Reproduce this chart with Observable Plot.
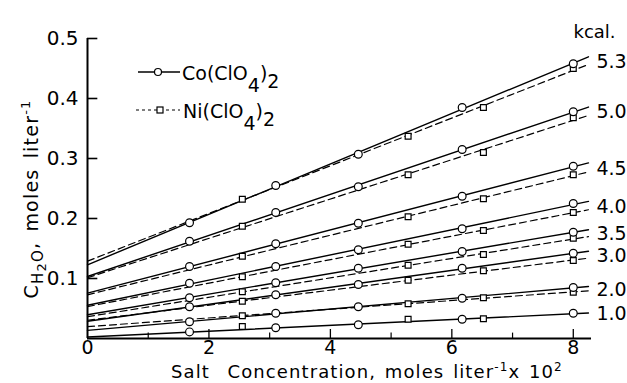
<!DOCTYPE html>
<html><head><meta charset="utf-8">
<script src="https://cdn.jsdelivr.net/npm/d3@7"></script>
<script src="https://cdn.jsdelivr.net/npm/@observablehq/plot@0.6"></script>
<style>html,body{margin:0;padding:0;background:#fff}</style>
</head><body><div id="chart"></div>
<script>
// Salt concentrations (moles liter^-1 x 10^2)
const coX = [1.68, 3.1, 4.46, 6.17, 8.0];
const niX = [2.55, 5.28, 6.52, 8.0];
// kcal labels, top to bottom
const kcal = ["5.3", "5.0", "4.5", "4.0", "3.5", "3.0", "2.0", "1.0"];
// Co(ClO4)2 values (C_H2O, moles liter^-1)
const co53 = [0.193, 0.255, 0.307, 0.385, 0.458];
const co50 = [0.162, 0.210, 0.253, 0.315, 0.378];
const co45 = [0.120, 0.158, 0.192, 0.237, 0.287];
const co40 = [0.092, 0.120, 0.148, 0.183, 0.225];
const co35 = [0.068, 0.093, 0.117, 0.145, 0.177];
const co30 = [0.053, 0.073, 0.090, 0.117, 0.142];
const co20 = [0.028, 0.042, 0.053, 0.067, 0.085];
const co10 = [0.011, 0.018, 0.023, 0.032, 0.042];
// Ni(ClO4)2 values
const ni53 = [0.232, 0.337, 0.385, 0.450];
const ni50 = [0.187, 0.273, 0.310, 0.368];
const ni45 = [0.137, 0.203, 0.233, 0.273];
const ni40 = [0.103, 0.157, 0.180, 0.210];
const ni35 = [0.078, 0.122, 0.140, 0.167];
const ni30 = [0.062, 0.097, 0.113, 0.130];
const ni20 = [0.038, 0.058, 0.068, 0.077];
const ni10 = [0.020, 0.032, 0.033, null];
// axis ticks
const xTicks = [0, 2, 4, 6, 8];
const xMinorTicks = [1, 3, 5, 7];
const yTicks = [0.1, 0.2, 0.3, 0.4, 0.5];
const xMax = 8.3;
const lineEnd = 8.25;

const coSeries = [co53, co50, co45, co40, co35, co30, co20, co10];
const niSeries = [ni53, ni50, ni45, ni40, ni35, ni30, ni20, ni10];

function fit(xs, ys) {
  const pts = xs.map((x, i) => [x, ys[i]]).filter(d => d[1] != null);
  const mx = d3.mean(pts, d => d[0]), my = d3.mean(pts, d => d[1]);
  let sxy = 0, sxx = 0;
  for (const [x, y] of pts) { sxy += (x - mx) * (y - my); sxx += (x - mx) ** 2; }
  const m = sxy / sxx;
  return {m, b: my - m * mx, n: pts.length};
}

const coPts = kcal.flatMap((k, i) => coX.map((x, j) => ({k, x, y: coSeries[i][j]})));
const niPts = kcal.flatMap((k, i) => niX.map((x, j) => ({k, x, y: niSeries[i][j]}))).filter(d => d.y != null);
const coFits = coSeries.map(s => fit(coX, s));
const niFits = niSeries.map(s => fit(niX, s));
const coLines = kcal.flatMap((k, i) => [0, lineEnd].map(x => ({k, x, y: coFits[i].b + coFits[i].m * x})));
const niLines = kcal.flatMap((k, i) => niFits[i].n < 4 ? [] : [0, lineEnd].map(x => ({k, x, y: niFits[i].b + niFits[i].m * x})));
const labels = kcal.map((k, i) => {
  const yc = coFits[i].b + coFits[i].m * lineEnd;
  const yn = niFits[i].n < 4 ? yc : niFits[i].b + niFits[i].m * lineEnd;
  return {k, x: lineEnd, y: (yc + yn) / 2};
});

const FONT = "'DejaVu Sans', sans-serif";

const plot = Plot.plot({
  width: 627, height: 383,
  marginLeft: 87, marginRight: 36, marginTop: 38, marginBottom: 45,
  x: {domain: [0, xMax]},
  y: {domain: [0, 0.5]},
  style: {fontFamily: FONT, color: "black", background: "white", overflow: "visible"},
  marks: [
    Plot.axisX({ticks: xTicks, tickSize: 0, tickPadding: 2, fontSize: 19, label: null}),
    Plot.axisY({ticks: yTicks, tickSize: 0, tickPadding: 9, fontSize: 20, label: null, tickFormat: d => d.toFixed(1)}),
    Plot.ruleX(xTicks.slice(1), {y1: 0, y2: 0.015, stroke: "black", strokeWidth: 1.3}),
    Plot.ruleX(xMinorTicks, {y1: 0, y2: 0.009, stroke: "black", strokeWidth: 1.2}),
    Plot.ruleY(yTicks, {x1: 0, x2: 0.17, stroke: "black", strokeWidth: 1.6}),
    Plot.ruleY([0], {x1: 0, x2: xMax, stroke: "black", strokeWidth: 2}),
    Plot.ruleX([0], {y1: 0, y2: 0.5, stroke: "black", strokeWidth: 2}),
    Plot.line(niLines, {x: "x", y: "y", z: "k", stroke: "black", strokeWidth: 1.2, strokeDasharray: "7,4"}),
    Plot.line(coLines, {x: "x", y: "y", z: "k", stroke: "black", strokeWidth: 1.4}),
    Plot.dot(niPts, {x: "x", y: "y", symbol: "square", r: 3.3, fill: "white", stroke: "black", strokeWidth: 1.2}),
    Plot.dot(coPts, {x: "x", y: "y", symbol: "circle", r: 3.9, fill: "white", stroke: "black", strokeWidth: 1.2}),
    Plot.text(labels, {x: "x", y: "y", text: "k", textAnchor: "start", dx: 8, dy: 1, fontSize: 19}),
    Plot.text(["kcal."], {frameAnchor: "top-right", text: d => d, textAnchor: "start", dx: -18, dy: -13, fontSize: 18})
  ]
});

document.getElementById("chart").appendChild(plot);

// Legend, axis titles (rich text with sub/superscripts)
const svg = d3.select(plot);
const g = svg.append("g").attr("font-family", FONT).attr("fill", "black").attr("text-anchor", "start");

// Co legend
g.append("line").attr("x1", 138).attr("x2", 180).attr("y1", 72).attr("y2", 72).attr("stroke", "black").attr("stroke-width", 1.4);
g.append("circle").attr("cx", 158).attr("cy", 72).attr("r", 3.5).attr("fill", "white").attr("stroke", "black").attr("stroke-width", 1.2);
const t1 = g.append("text").attr("x", 182).attr("y", 80).attr("font-size", 19);
t1.append("tspan").text("Co(ClO");
t1.append("tspan").attr("dy", 12).text("4");
t1.append("tspan").attr("dy", -12).text(")");
t1.append("tspan").attr("dy", 8).text("2");

// Ni legend
g.append("line").attr("x1", 136).attr("x2", 180).attr("y1", 110).attr("y2", 110).attr("stroke", "black").attr("stroke-width", 1.2).attr("stroke-dasharray", "3,3");
g.append("rect").attr("x", 157).attr("y", 107).attr("width", 6).attr("height", 6).attr("fill", "white").attr("stroke", "black").attr("stroke-width", 1.2);
const t2 = g.append("text").attr("x", 183).attr("y", 118).attr("font-size", 19);
t2.append("tspan").text("Ni(ClO");
t2.append("tspan").attr("dy", 12).text("4");
t2.append("tspan").attr("dy", -12).text(")");
t2.append("tspan").attr("dy", 8).text("2");

// Y title
const yt = g.append("text").attr("transform", "translate(38,199) rotate(-90)").attr("text-anchor", "middle")
  .attr("font-size", 19).attr("letter-spacing", 1.2).attr("word-spacing", 3);
yt.append("tspan").text("C");
yt.append("tspan").attr("dy", 5).attr("font-size", 15).text("H");
yt.append("tspan").attr("dy", 3).attr("font-size", 13).text("2");
yt.append("tspan").attr("dy", -3).attr("font-size", 15).text("O");
yt.append("tspan").attr("dy", -5).text(", moles liter");
yt.append("tspan").attr("dy", -8).attr("font-size", 13).text("-1");

// X title
const xt = g.append("text").attr("x", 171).attr("y", 378).attr("font-size", 18)
  .attr("letter-spacing", 1.1).attr("word-spacing", 2);
xt.append("tspan").text("Salt\u00a0 Concentration, moles liter");
xt.append("tspan").attr("dy", -7).attr("font-size", 12).text("-1");
xt.append("tspan").attr("dy", 7).text("x 10");
xt.append("tspan").attr("dy", -7).attr("font-size", 12).text("2");
</script>
</body></html>
